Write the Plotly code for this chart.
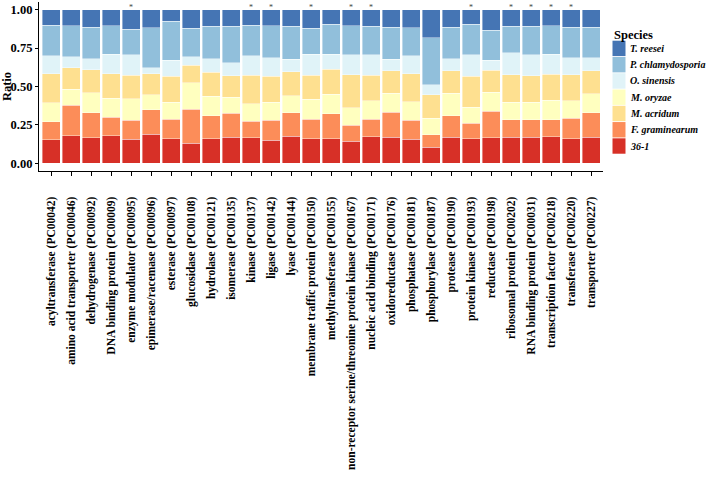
import plotly.graph_objects as go

categories = [
    "acyltransferase (PC00042)", "amino acid transporter (PC00046)", "dehydrogenase (PC00092)",
    "DNA binding protein (PC00009)", "enzyme modulator (PC00095)", "epimerase/racemase (PC00096)",
    "esterase (PC00097)", "glucosidase (PC00108)", "hydrolase (PC00121)", "isomerase (PC00135)",
    "kinase (PC00137)", "ligase (PC00142)", "lyase (PC00144)", "membrane traffic protein (PC00150)",
    "methyltransferase (PC00155)", "non-receptor serine/threonine protein kinase (PC00167)",
    "nucleic acid binding (PC00171)", "oxidoreductase (PC00176)", "phosphatase (PC00181)",
    "phosphorylase (PC00187)", "protease (PC00190)", "protein kinase (PC00193)", "reductase (PC00198)",
    "ribosomal protein (PC00202)", "RNA binding protein (PC00031)", "transcription factor (PC00218)",
    "transferase (PC00220)", "transporter (PC00227)",
]

# ratios per species (stack order bottom -> top)
r_36_1 = [.152, .180, .165, .180, .156, .188, .160, .130, .160, .171, .167, .149, .175, .160,
          .160, .145, .173, .169, .156, .106, .169, .160, .167, .171, .171, .173, .160, .171]
f_graminearum = [.119, .199, .164, .119, .125, .160, .128, .223, .150, .156, .108, .132, .154, .126,
                 .163, .104, .115, .162, .125, .080, .141, .100, .171, .113, .113, .111, .134, .158]
m_oryzae = [.123, .104, .130, .123, .139, .097, .108, .173, .127, .102, .112, .117, .110, .130,
            .127, .112, .119, .124, .119, .108, .145, .104, .125, .114, .114, .127, .113, .123]
m_acridum = [.190, .138, .151, .162, .154, .139, .171, .113, .156, .142, .187, .169, .156, .158,
             .163, .215, .167, .149, .184, .152, .147, .203, .143, .178, .171, .169, .169, .150]
o_sinensis = [.117, .072, .072, .126, .132, .039, .104, .054, .089, .083, .125, .119, .082, .136,
              .097, .132, .134, .073, .115, .065, .080, .141, .065, .145, .139, .130, .110, .086]
p_chlamydosporia = [.199, .201, .203, .186, .166, .258, .255, .186, .210, .238, .201, .210, .215, .169,
                    .195, .188, .184, .210, .182, .305, .205, .197, .195, .171, .184, .184, .201, .199]
t_reesei = [.100, .106, .115, .104, .128, .119, .074, .121, .108, .108, .100, .104, .108, .121,
            .095, .104, .108, .113, .119, .184, .113, .095, .134, .108, .108, .106, .113, .113]

significant = [False, False, False, False, True, False, False, False, False, False,
               True, True, False, True, False, True, True, False, False, False,
               False, True, False, True, True, True, True, False]

# (name, values, colour) in stack order bottom -> top
series = [
    ("36-1", r_36_1, "#d73027"),
    ("F. graminearum", f_graminearum, "#fc8d59"),
    ("M. oryzae", m_oryzae, "#ffffbf"),
    ("M. acridum", m_acridum, "#fee090"),
    ("O. sinensis", o_sinensis, "#e0f3f8"),
    ("P. chlamydosporia", p_chlamydosporia, "#91bfdb"),
    ("T. reesei", t_reesei, "#4575b4"),
]
legend_order = ["T. reesei", "P. chlamydosporia", "O. sinensis", "M. oryzae",
                "M. acridum", "F. graminearum", "36-1"]

FONT = "Liberation Serif, Times New Roman, serif"
W, H = 708, 477
ML, MR, MT, MB = 39, 105, 2, 306
PW, PH = W - ML - MR, H - MT - MB


def px_x(px):
    return (px - ML) / PW


def px_y(py):
    return 1 - (py - MT) / PH


fig = go.Figure()
for name, vals, color in series:
    fig.add_trace(go.Bar(
        x=categories, y=vals, name=name, showlegend=False,
        marker=dict(color=color, line=dict(color="white", width=0.4)),
    ))

for cat, sig in zip(categories, significant):
    if sig:
        fig.add_annotation(x=cat, y=1.0, text="*", showarrow=False, yanchor="bottom",
                           yshift=-4, font=dict(family=FONT, size=8, color="#444"))

# legend (drawn manually to match the ggplot layout)
colors = {n: c for n, _, c in series}
fig.add_annotation(xref="paper", yref="paper", x=px_x(611.5), y=px_y(34.5),
                   xanchor="left", yanchor="middle", showarrow=False, text="<b>Species</b>",
                   font=dict(family=FONT, size=12.5, color="black"))
for i, name in enumerate(legend_order):
    top = 40.7 + 16.27 * i
    fig.add_shape(type="rect", xref="paper", yref="paper",
                  x0=px_x(612.5), x1=px_x(625.5), y0=px_y(top), y1=px_y(top + 15.4),
                  fillcolor=colors[name], line=dict(width=0))
    fig.add_annotation(xref="paper", yref="paper", x=px_x(628.0), y=px_y(top + 7.7),
                       xanchor="left", yanchor="middle", showarrow=False,
                       text=f"<b><i>{name}</i></b>",
                       font=dict(family=FONT, size=10, color="black"))

fig.update_layout(
    template="none",
    width=W, height=H,
    barmode="stack", bargap=0.1,
    paper_bgcolor="white", plot_bgcolor="white",
    margin=dict(l=ML, r=MR, t=MT, b=MB, autoexpand=False),
    font=dict(family=FONT, color="black"),
    showlegend=False,
    xaxis=dict(
        tickangle=-90, showline=True, linecolor="black", linewidth=1.2,
        ticks="outside", ticklen=4, tickcolor="black", tickwidth=1,
        tickfont=dict(family=FONT, size=11.5, weight="bold", color="black"),
        range=[-0.6, 27.6], showgrid=False, zeroline=False,
        ticklabelstandoff=16, automargin=False,
    ),
    yaxis=dict(
        range=[-0.05, 1.05], tickvals=[0, 0.25, 0.5, 0.75, 1.0],
        ticktext=["0.00", "0.25", "0.50", "0.75", "1.00"],
        showline=True, linecolor="black", linewidth=1.2,
        ticks="outside", ticklen=3, tickcolor="black", tickwidth=1,
        tickfont=dict(family=FONT, size=12.5, weight="bold", color="black"),
        title=dict(text="Ratio", font=dict(family=FONT, size=12.5, weight="bold"), standoff=2),
        showgrid=False, zeroline=False, automargin=False, ticklabelstandoff=0,
    ),
)

fig.write_html(
    "out.html",
    config={"displayModeBar": False},
    post_script="document.body.style.margin='0px';document.body.style.padding='0px';",
)
